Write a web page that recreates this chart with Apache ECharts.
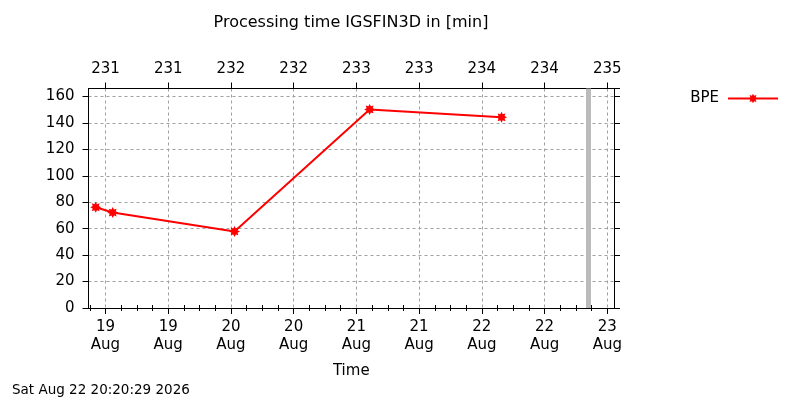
<!DOCTYPE html>
<html>
<head>
<meta charset="utf-8">
<script src="https://cdn.jsdelivr.net/npm/echarts@6/dist/echarts.min.js"></script>
<style>
  html, body { margin: 0; padding: 0; background: #fff; }
  #chart { width: 800px; height: 400px; }
</style>
</head>
<body>
<div id="chart"></div>
<script>
// 数据 (UTC)
var seriesName = 'BPE';
var bpeTimes = [
  Date.UTC(2026, 7, 18, 22, 8),
  Date.UTC(2026, 7, 19, 1, 23),
  Date.UTC(2026, 7, 20, 0, 41),
  Date.UTC(2026, 7, 21, 2, 32),
  Date.UTC(2026, 7, 22, 3, 46)
];
var bpeValues = [76.2, 72.2, 57.9, 150.2, 144.2];
// 主刻度：每 12 小时
var xTicks = [
  Date.UTC(2026, 7, 19, 0), Date.UTC(2026, 7, 19, 12),
  Date.UTC(2026, 7, 20, 0), Date.UTC(2026, 7, 20, 12),
  Date.UTC(2026, 7, 21, 0), Date.UTC(2026, 7, 21, 12),
  Date.UTC(2026, 7, 22, 0), Date.UTC(2026, 7, 22, 12),
  Date.UTC(2026, 7, 23, 0)
];
var xMin = Date.UTC(2026, 7, 18, 20, 45);
var xMax = Date.UTC(2026, 7, 23, 1, 17);
var nowTime = Date.UTC(2026, 7, 22, 20, 20, 29);
var stampText = 'Sat Aug 22 20:20:29 2026';
var titleText = 'Processing time IGSFIN3D in [min]';
var monthNames = ['Jan','Feb','Mar','Apr','May','Jun','Jul','Aug','Sep','Oct','Nov','Dec'];

var FONT = 'DejaVu Sans';

// 次刻度：每 3 小时
var xMinorTicks = [];
for (var t = Date.UTC(2026, 7, 18, 21); t < xMax; t += 3 * 3600 * 1000) {
  if (xTicks.indexOf(t) < 0) xMinorTicks.push(t);
}

var chart = echarts.init(document.getElementById('chart'));

var bpeData = bpeTimes.map(function (t, i) { return [t, bpeValues[i]]; });

function dayOfYear(v) {
  var d = new Date(v);
  return Math.floor((v - Date.UTC(d.getUTCFullYear(), 0, 1)) / 86400000) + 1;
}

var starPath = 'path://M20 10L15.54 12.3L17.07 17.07L12.3 15.54L10 20L7.7 15.54L2.93 17.07L4.46 12.3L0 10L4.46 7.7L2.93 2.93L7.7 4.46L10 0L12.3 4.46L17.07 2.93L15.54 7.7Z';

var gridLine = { show: true, lineStyle: { color: '#a0a0a0', type: [3, 3], width: 1 } };
var blackLine = { show: true, onZero: false, lineStyle: { color: '#000', width: 1 } };

function xAxisBase(pos) {
  return {
    type: 'value',
    position: pos,
    min: xMin,
    max: xMax,
    axisLine: blackLine,
    axisTick: { show: true, inside: false, length: 6, customValues: xTicks, lineStyle: { color: '#000' } },
    splitLine: { show: false }
  };
}

function xMinorAxis(pos) {
  return {
    type: 'value',
    position: pos,
    min: xMin,
    max: xMax,
    axisLine: { show: false },
    axisTick: { show: true, inside: false, length: 3, customValues: xMinorTicks, lineStyle: { color: '#000' } },
    axisLabel: { show: false },
    splitLine: { show: false }
  };
}

var bottomAxis = xAxisBase('bottom');
bottomAxis.name = 'Time';
bottomAxis.nameLocation = 'middle';
bottomAxis.nameGap = 56;
bottomAxis.nameTextStyle = { fontFamily: FONT, fontSize: 15, color: '#000' };
bottomAxis.splitLine = gridLine;
bottomAxis.axisLabel = {
  customValues: xTicks,
  margin: 10, lineHeight: 18,
  fontFamily: FONT, fontSize: 15, color: '#000',
  formatter: function (v) {
    var d = new Date(v);
    return d.getUTCDate() + '\n' + monthNames[d.getUTCMonth()];
  }
};

var topAxis = xAxisBase('top');
topAxis.axisLabel = {
  customValues: xTicks,
  margin: 12,
  fontFamily: FONT, fontSize: 15, color: '#000',
  formatter: function (v) { return String(dayOfYear(v)); }
};

chart.setOption({
  animation: false,
  grid: { left: 88.5, top: 88.5, right: 186, bottom: 92 },
  legend: {
    right: 21,
    top: 91,
    padding: 0,
    align: 'right',
    itemWidth: 50,
    itemHeight: 12,
    textStyle: { fontFamily: FONT, fontSize: 15, color: '#000', padding: [0, 4, 0, 0] },
    data: [seriesName]
  },
  graphic: [
    {
      type: 'text', x: 351, y: 23,
      style: { text: titleText, font: '16px "DejaVu Sans"', fill: '#000', textAlign: 'center', textVerticalAlign: 'middle' }
    },
    {
      type: 'text', x: 12, y: 390,
      style: { text: stampText, font: '13.5px "DejaVu Sans"', fill: '#000', textAlign: 'left', textVerticalAlign: 'middle' }
    }
  ],
  xAxis: [bottomAxis, topAxis, xMinorAxis('bottom'), xMinorAxis('top')],
  yAxis: [
    {
      type: 'value', position: 'left', min: 0, max: 166, interval: 20,
      axisLine: blackLine,
      axisTick: { show: true, inside: false, length: 6, lineStyle: { color: '#000' } },
      splitLine: gridLine,
      axisLabel: { showMaxLabel: false, margin: 14, fontFamily: FONT, fontSize: 15, color: '#000' }
    },
    {
      type: 'value', position: 'right', min: 0, max: 166, interval: 20,
      axisLine: blackLine,
      axisTick: { show: true, inside: false, length: 6, lineStyle: { color: '#000' } },
      splitLine: { show: false },
      axisLabel: { show: false }
    }
  ],
  series: [
    {
      name: seriesName,
      type: 'line',
      xAxisIndex: 0,
      yAxisIndex: 0,
      data: bpeData,
      symbol: starPath,
      symbolSize: 11,
      showAllSymbol: true,
      lineStyle: { color: '#ff0000', width: 2 },
      itemStyle: { color: '#ff0000' },
      markLine: {
        silent: true,
        symbol: ['none', 'none'],
        label: { show: false },
        lineStyle: { color: '#bbbbbb', width: 5, type: 'solid' },
        data: [{ xAxis: nowTime }]
      }
    }
  ]
});
</script>
</body>
</html>
